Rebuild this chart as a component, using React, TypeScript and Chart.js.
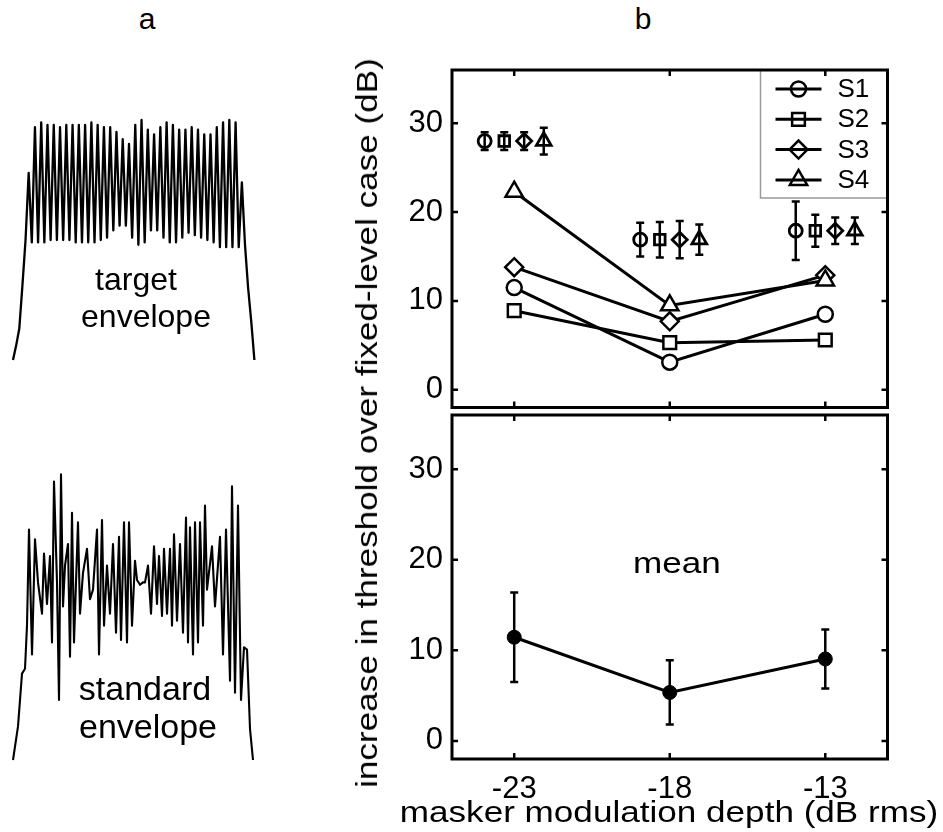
import React, { useEffect, useRef } from "react";
import { Chart, registerables } from "chart.js";
import { drawPoint } from "chart.js/helpers";

Chart.register(...registerables);

const FONT = "'Liberation Sans', Arial, Helvetica, sans-serif";

// ---------------- Panel a: envelopes (arbitrary amplitude units, 0 = silence) ----------------
const targetOnset = [0, 6, 13, 31, 50, 78, 49];
const targetPeaks = [97, 99, 98, 98, 97, 98, 98, 98, 98, 99, 98, 97, 97, 95, 92, 90, 98, 100, 96, 94, 97, 99, 98, 96, 96, 97, 96, 94, 94, 97, 99, 100, 99];
const targetTroughs = [49, 49, 50, 50, 50, 50, 49, 49, 49, 49, 50, 51, 54, 56, 56, 51, 48, 49, 54, 54, 51, 49, 49, 51, 53, 52, 51, 50, 49, 47, 47, 47];
const targetOffset = [47, 74, 48, 30, 16, 0];

const standardTime = [0, 5, 9, 12, 14, 16, 19, 22, 25, 29, 31, 34, 37, 39, 41, 44, 46, 48, 50, 52, 55, 57, 59, 61, 65, 67, 70, 74, 77, 80, 84, 86, 89, 91, 94, 97, 100, 103, 106, 108, 111, 114, 116, 119, 122, 124, 127, 130, 132, 135, 138, 141, 144, 146, 149, 151, 154, 157, 159, 161, 164, 167, 170, 173, 175, 177, 180, 182, 185, 187, 190, 192, 194, 199, 202, 207, 210, 213, 217, 219, 222, 225, 228, 231, 234, 237, 240];
const standardAmp = [0, 14, 36, 38, 56, 96, 44, 92, 74, 61, 86, 65, 85, 49, 116, 74, 25, 119, 64, 81, 90, 43, 103, 49, 99, 61, 78, 88, 67, 71, 96, 44, 100, 56, 81, 61, 90, 53, 93, 50, 99, 49, 99, 56, 83, 75, 73, 74, 74, 81, 61, 89, 65, 85, 60, 88, 61, 88, 56, 94, 58, 90, 53, 101, 49, 97, 44, 99, 49, 99, 56, 106, 71, 89, 64, 93, 44, 96, 33, 114, 28, 106, 25, 47, 46, 13, 0];

// ---------------- Panel b data ----------------
const depths = [-23, -18, -13];
const xTickValues = [-23, -18, -13];
const yTickValues = [0, 10, 20, 30];
const subjectLabels = ["S1", "S2", "S3", "S4"];

const s1Increase = [11.5, 3.1, 8.5];
const s2Increase = [8.9, 5.3, 5.6];
const s3Increase = [13.8, 7.7, 12.9];
const s4Increase = [22.3, 9.5, 12.3];

const s1Fixed = [28.0, 16.9, 17.9];
const s2Fixed = [28.0, 16.9, 17.9];
const s3Fixed = [28.0, 16.9, 17.9];
const s4Fixed = [28.0, 16.9, 17.9];
const s1FixedErr = [1.0, 1.9, 3.3];
const s2FixedErr = [1.0, 2.0, 1.8];
const s3FixedErr = [1.0, 2.1, 1.5];
const s4FixedErr = [1.5, 1.7, 1.5];
const fixedOffsets = [-0.95, -0.32, 0.32, 0.95];

const meanIncrease = [11.45, 5.35, 9.05];
const meanErr = [4.95, 3.55, 3.25];

// ---------------- styles ----------------
const subjectStyles = ["circle", "rect", "rectRot", "triangle"];
const subjectRadii = [7.5, 9, 9, 10];
const fixedRadii = [6.5, 7.5, 7.5, 8.5];
const STRETCH = 1.17;

const framePlugin = {
  id: "matlabFrame",
  afterDraw(chart: any) {
    const { ctx, chartArea } = chart;
    const { left, right, top, bottom } = chartArea;
    const xs = chart.scales.x;
    const ys = chart.scales.y;
    ctx.save();
    ctx.strokeStyle = "#000";
    ctx.lineWidth = 2.5;
    ctx.beginPath();
    for (const t of xs.ticks) {
      const px = xs.getPixelForValue(t.value);
      ctx.moveTo(px, bottom);
      ctx.lineTo(px, bottom - 6);
      ctx.moveTo(px, top);
      ctx.lineTo(px, top + 6);
    }
    for (const t of ys.ticks) {
      const py = ys.getPixelForValue(t.value);
      ctx.moveTo(left, py);
      ctx.lineTo(left + 6, py);
      ctx.moveTo(right, py);
      ctx.lineTo(right - 6, py);
    }
    ctx.stroke();
    ctx.lineWidth = 3;
    ctx.strokeRect(left, top, right - left, bottom - top);
    ctx.restore();
  },
};

const errorBarPlugin = {
  id: "errorBars",
  afterDatasetsDraw(chart: any) {
    const { ctx } = chart;
    const ys = chart.scales.y;
    chart.data.datasets.forEach((ds: any, i: number) => {
      if (!ds.errors) return;
      const meta = chart.getDatasetMeta(i);
      ctx.save();
      ctx.strokeStyle = "#000";
      ctx.lineWidth = 2.5;
      meta.data.forEach((el: any, j: number) => {
        const v = ds.data[j].y;
        const e = ds.errors[j];
        const yHi = ys.getPixelForValue(v + e);
        const yLo = ys.getPixelForValue(v - e);
        const cap = 4;
        ctx.beginPath();
        ctx.moveTo(el.x, yHi);
        ctx.lineTo(el.x, yLo);
        ctx.moveTo(el.x - cap, yHi);
        ctx.lineTo(el.x + cap, yHi);
        ctx.moveTo(el.x - cap, yLo);
        ctx.lineTo(el.x + cap, yLo);
        ctx.stroke();
      });
      ctx.restore();
    });
  },
};

const legendPlugin = {
  id: "insetLegend",
  afterDatasetsDraw(chart: any) {
    const { ctx, chartArea } = chart;
    const items = chart.data.datasets.filter((d: any) => d.inLegend);
    const w = 127;
    const h = 128;
    const bx = chartArea.right - w;
    const by = chartArea.top;
    ctx.save();
    ctx.fillStyle = "#fff";
    ctx.fillRect(bx, by, w, h);
    ctx.strokeStyle = "#9a9a9a";
    ctx.lineWidth = 1.5;
    ctx.strokeRect(bx, by, w, h);
    items.forEach((d: any, k: number) => {
      const cy = by + 19 + k * 30.3;
      ctx.strokeStyle = "#000";
      ctx.lineWidth = 3;
      ctx.beginPath();
      ctx.moveTo(bx + 15, cy);
      ctx.lineTo(bx + 61, cy);
      ctx.stroke();
      ctx.fillStyle = "rgba(0,0,0,0)";
      ctx.lineWidth = 2.5;
      drawPoint(ctx, { pointStyle: d.pointStyle, radius: d.pointRadius, rotation: 0, borderWidth: 2.5 } as any, bx + 38, cy);
      ctx.fillStyle = "#000";
      ctx.font = `26px ${FONT}`;
      ctx.textBaseline = "middle";
      ctx.textAlign = "left";
      ctx.fillText(d.label, bx + 77, cy + 1);
    });
    ctx.restore();
  },
};

const meanLabelPlugin = {
  id: "meanLabel",
  afterDraw(chart: any) {
    const { ctx } = chart;
    const xs = chart.scales.x;
    const ys = chart.scales.y;
    ctx.save();
    ctx.fillStyle = "#000";
    ctx.font = `30px ${FONT}`;
    ctx.textAlign = "center";
    ctx.textBaseline = "alphabetic";
    ctx.translate(xs.getPixelForValue(-17.77), ys.getPixelForValue(18.55));
    ctx.scale(STRETCH, 1);
    ctx.fillText("mean", 0, 0);
    ctx.restore();
  },
};

function setTicks(values: number[]) {
  return (s: any) => {
    s.ticks = values.map((v) => ({ value: v }));
  };
}

function yAxis() {
  return {
    type: "linear",
    min: -2,
    max: 36,
    afterBuildTicks: setTicks(yTickValues),
    grid: { display: false, drawTicks: false },
    border: { display: false },
    ticks: { color: "#000", padding: 9, font: { family: FONT, size: 31 } },
    afterFit: (s: any) => {
      s.width = 112;
      s.paddingTop = 0;
      s.paddingBottom = 0;
    },
  };
}

const baseOptions = () => ({
  animation: false,
  responsive: false,
  events: [],
  plugins: { legend: { display: false }, tooltip: { enabled: false }, title: { display: false } },
});

function topConfig(): any {
  const subjects = [s1Increase, s2Increase, s3Increase, s4Increase];
  const fixed = [s1Fixed, s2Fixed, s3Fixed, s4Fixed];
  const fixedErr = [s1FixedErr, s2FixedErr, s3FixedErr, s4FixedErr];
  const datasets: any[] = [];
  subjects.forEach((vals, k) => {
    datasets.push({
      label: subjectLabels[k],
      inLegend: true,
      data: depths.map((d, i) => ({ x: d, y: vals[i] })),
      showLine: true,
      borderColor: "#000",
      borderWidth: 3,
      pointStyle: subjectStyles[k],
      pointRadius: subjectRadii[k],
      pointBackgroundColor: "#fff",
      pointBorderColor: "#000",
      pointBorderWidth: 2.5,
      order: 4 - k,
    });
  });
  fixed.forEach((vals, k) => {
    datasets.push({
      label: subjectLabels[k] + " fixed-level",
      data: depths.map((d, i) => ({ x: d + fixedOffsets[k], y: vals[i] })),
      errors: fixedErr[k],
      showLine: false,
      pointStyle: subjectStyles[k],
      pointRadius: fixedRadii[k],
      pointBackgroundColor: "rgba(0,0,0,0)",
      pointBorderColor: "#000",
      pointBorderWidth: 2.8,
    });
  });
  return {
    type: "scatter",
    data: { datasets },
    options: {
      ...baseOptions(),
      layout: { padding: { top: 30, right: 12.5, bottom: 5, left: 0 } },
      scales: {
        x: { type: "linear", display: false, min: -25, max: -11, afterBuildTicks: setTicks(xTickValues) },
        y: yAxis(),
      },
    },
    plugins: [errorBarPlugin, legendPlugin, framePlugin],
  };
}

function bottomConfig(): any {
  return {
    type: "scatter",
    data: {
      datasets: [
        {
          label: "mean",
          data: depths.map((d, i) => ({ x: d, y: meanIncrease[i] })),
          errors: meanErr,
          showLine: true,
          borderColor: "#000",
          borderWidth: 3,
          pointStyle: "circle",
          pointRadius: 7,
          pointBackgroundColor: "#000",
          pointBorderColor: "#000",
          pointBorderWidth: 1,
        },
      ],
    },
    options: {
      ...baseOptions(),
      layout: { padding: { top: 10, right: 12.5, bottom: 0, left: 0 } },
      scales: {
        x: {
          type: "linear",
          min: -25,
          max: -11,
          afterBuildTicks: setTicks(xTickValues),
          grid: { display: false, drawTicks: false },
          border: { display: false },
          ticks: { color: "#000", padding: 12, font: { family: FONT, size: 31 } },
          afterFit: (s: any) => {
            s.height = 73;
            s.paddingLeft = 0;
            s.paddingRight = 0;
          },
        },
        y: yAxis(),
      },
    },
    plugins: [errorBarPlugin, framePlugin, meanLabelPlugin],
  };
}

function envelopeConfig(points: { x: number; y: number }[], xMax: number, yMax: number, padding: any, width: number): any {
  return {
    type: "scatter",
    data: {
      datasets: [
        {
          data: points,
          showLine: true,
          borderColor: "#000",
          borderWidth: width,
          borderJoinStyle: "round",
          pointRadius: 0,
          clip: false,
        },
      ],
    },
    options: {
      ...baseOptions(),
      layout: { padding },
      scales: {
        x: { type: "linear", display: false, min: 0, max: xMax },
        y: { type: "linear", display: false, min: 0, max: yMax },
      },
    },
  };
}

function targetConfig() {
  const body: number[] = [];
  targetPeaks.forEach((p, i) => {
    body.push(p);
    if (i < targetTroughs.length) body.push(targetTroughs[i]);
  });
  const samples = [...targetOnset, ...body, ...targetOffset];
  const pts = samples.map((v, i) => ({ x: i, y: v }));
  return envelopeConfig(pts, samples.length - 1, 100, { left: 13, right: 25.6, top: 20, bottom: 20 }, 2.3);
}

function standardConfig() {
  const pts = standardTime.map((t, i) => ({ x: t, y: standardAmp[i] }));
  return envelopeConfig(pts, 241, 120, { left: 13, right: 26, top: 32, bottom: 20 }, 2.1);
}

function ChartCanvas({ left, top, width, height, make }: { left: number; top: number; width: number; height: number; make: () => any }) {
  const ref = useRef<HTMLCanvasElement>(null);
  useEffect(() => {
    const chart = new Chart(ref.current as HTMLCanvasElement, make());
    return () => chart.destroy();
  }, []);
  return (
    <canvas
      ref={ref}
      width={width}
      height={height}
      style={{ position: "absolute", left, top, width, height, display: "block" }}
    />
  );
}

function Label({ x, baseline, size, stretch = 1, children }: { x: number; baseline: number; size: number; stretch?: number; children: React.ReactNode }) {
  return (
    <div
      style={{
        position: "absolute",
        left: x,
        top: baseline - 0.8464 * size,
        transform: `translateX(-50%) scaleX(${stretch})`,
        font: `${size}px ${FONT}`,
        lineHeight: `${size}px`,
        whiteSpace: "nowrap",
        color: "#000",
      }}
    >
      {children}
    </div>
  );
}

export default function App() {
  const ySize = 30;
  return (
    <div style={{ position: "absolute", left: 0, top: 0, width: 943, height: 832, background: "#fff", overflow: "hidden" }}>
      <Label x={147} baseline={29} size={30}>a</Label>
      <Label x={643} baseline={29} size={30}>b</Label>
      <ChartCanvas left={0} top={100} width={280} height={280} make={targetConfig} />
      <ChartCanvas left={0} top={440} width={280} height={340} make={standardConfig} />
      <Label x={136} baseline={290} size={32}>target</Label>
      <Label x={146} baseline={327} size={32}>envelope</Label>
      <Label x={145} baseline={700} size={34}>standard</Label>
      <Label x={148} baseline={738} size={34}>envelope</Label>
      <ChartCanvas left={340} top={40} width={560} height={380} make={topConfig} />
      <ChartCanvas left={340} top={405} width={560} height={427} make={bottomConfig} />
      <Label x={669} baseline={822} size={30} stretch={STRETCH}>masker modulation depth (dB rms)</Label>
      <div
        style={{
          position: "absolute",
          left: 377 - 0.3464 * ySize,
          top: 423,
          transform: `translate(-50%, -50%) rotate(-90deg) scaleX(${STRETCH})`,
          font: `${ySize}px ${FONT}`,
          lineHeight: `${ySize}px`,
          whiteSpace: "nowrap",
          color: "#000",
        }}
      >
        increase in threshold over fixed-level case (dB)
      </div>
    </div>
  );
}
